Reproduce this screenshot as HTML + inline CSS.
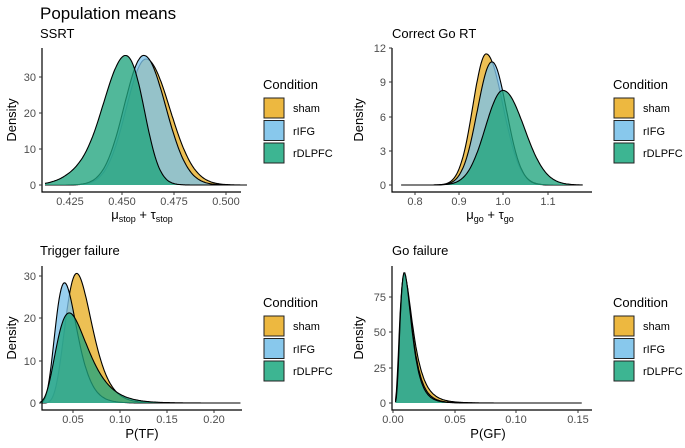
<!DOCTYPE html>
<html><head><meta charset="utf-8"><style>
body{margin:0;background:#fff}
svg{display:block;font-family:"Liberation Sans",sans-serif}
.tk{font-size:11px;fill:#4d4d4d}
.ax{stroke:#000;stroke-width:1.2;fill:none}
.tm{stroke:#333;stroke-width:1}
</style></head><body>
<svg id="s" width="685" height="448" viewBox="0 0 685 448">
<rect width="685" height="448" fill="#fff"/>
<text x="40" y="19" font-size="17">Population means</text>
<text x="40" y="38" font-size="13">SSRT</text>
<text x="392" y="38" font-size="13">Correct Go RT</text>
<text x="40" y="255" font-size="13">Trigger failure</text>
<text x="392" y="255" font-size="13">Go failure</text>
<g id="curves"></g>
<path class="ax" d="M42,48V192H241"/>
<g class="tm"><path d="M39,185H42M39,149H42M39,113H42M39,77H42M70,192V195M122,192V195M174,192V195M226,192V195"/></g>
<g class="tk" text-anchor="end"><text x="36" y="189">0</text><text x="36" y="153">10</text><text x="36" y="117">20</text><text x="36" y="81">30</text></g>
<g class="tk" text-anchor="middle"><text x="70" y="205">0.425</text><text x="122" y="205">0.450</text><text x="174" y="205">0.475</text><text x="226" y="205">0.500</text></g>
<text transform="translate(16,120) rotate(-90)" text-anchor="middle" font-size="13">Density</text>
<text x="142" y="219" text-anchor="middle" font-size="13">μ<tspan font-size="9" dy="3">stop</tspan><tspan dy="-3"> + τ</tspan><tspan font-size="9" dy="3">stop</tspan></text>
<path class="ax" d="M392,48V192H592"/>
<g class="tm"><path d="M389,185H392M389,151H392M389,117H392M389,82H392M389,48H392M415,192V195M459,192V195M503,192V195M548,192V195"/></g>
<g class="tk" text-anchor="end"><text x="386" y="189">0</text><text x="386" y="155">3</text><text x="386" y="121">6</text><text x="386" y="86">9</text><text x="386" y="52">12</text></g>
<g class="tk" text-anchor="middle"><text x="415" y="205">0.8</text><text x="459" y="205">0.9</text><text x="503" y="205">1.0</text><text x="548" y="205">1.1</text></g>
<text transform="translate(363,120) rotate(-90)" text-anchor="middle" font-size="13">Density</text>
<text x="490" y="219" text-anchor="middle" font-size="13">μ<tspan font-size="9" dy="3">go</tspan><tspan dy="-3"> + τ</tspan><tspan font-size="9" dy="3">go</tspan></text>
<path class="ax" d="M42,266V410H242"/>
<g class="tm"><path d="M39,403H42M39,361H42M39,318H42M39,276H42M73,410V413M120,410V413M167,410V413M214,410V413"/></g>
<g class="tk" text-anchor="end"><text x="36" y="407">0</text><text x="36" y="365">10</text><text x="36" y="322">20</text><text x="36" y="280">30</text></g>
<g class="tk" text-anchor="middle"><text x="73" y="423">0.05</text><text x="120" y="423">0.10</text><text x="167" y="423">0.15</text><text x="214" y="423">0.20</text></g>
<text transform="translate(16,338) rotate(-90)" text-anchor="middle" font-size="13">Density</text>
<text x="142" y="438" text-anchor="middle" font-size="13">P(TF)</text>
<path class="ax" d="M392,266V410H592"/>
<g class="tm"><path d="M389,403H392M389,368H392M389,332H392M389,297H392M393,410V413M455,410V413M516,410V413M578,410V413"/></g>
<g class="tk" text-anchor="end"><text x="386" y="407">0</text><text x="386" y="372">25</text><text x="386" y="336">50</text><text x="386" y="301">75</text></g>
<g class="tk" text-anchor="middle"><text x="393" y="423">0.00</text><text x="455" y="423">0.05</text><text x="516" y="423">0.10</text><text x="578" y="423">0.15</text></g>
<text transform="translate(363,338) rotate(-90)" text-anchor="middle" font-size="13">Density</text>
<text x="488" y="438" text-anchor="middle" font-size="13">P(GF)</text>
<g transform="translate(263,0)">
<text x="0" y="89" font-size="13">Condition</text>
<rect x="1" y="98" width="20" height="20" fill="#EDB840" stroke="#222"/>
<rect x="1" y="120.5" width="20" height="20" fill="#88C8EC" stroke="#222"/>
<rect x="1" y="143" width="20" height="20" fill="#3DB592" stroke="#222"/>
<text x="30" y="112" font-size="11">sham</text><text x="30" y="135" font-size="11">rIFG</text><text x="30" y="157" font-size="11">rDLPFC</text>
</g>
<g transform="translate(613,0)">
<text x="0" y="89" font-size="13">Condition</text>
<rect x="1" y="98" width="20" height="20" fill="#EDB840" stroke="#222"/>
<rect x="1" y="120.5" width="20" height="20" fill="#88C8EC" stroke="#222"/>
<rect x="1" y="143" width="20" height="20" fill="#3DB592" stroke="#222"/>
<text x="30" y="112" font-size="11">sham</text><text x="30" y="135" font-size="11">rIFG</text><text x="30" y="157" font-size="11">rDLPFC</text>
</g>
<g transform="translate(263,218)">
<text x="0" y="89" font-size="13">Condition</text>
<rect x="1" y="98" width="20" height="20" fill="#EDB840" stroke="#222"/>
<rect x="1" y="120.5" width="20" height="20" fill="#88C8EC" stroke="#222"/>
<rect x="1" y="143" width="20" height="20" fill="#3DB592" stroke="#222"/>
<text x="30" y="112" font-size="11">sham</text><text x="30" y="135" font-size="11">rIFG</text><text x="30" y="157" font-size="11">rDLPFC</text>
</g>
<g transform="translate(613,218)">
<text x="0" y="89" font-size="13">Condition</text>
<rect x="1" y="98" width="20" height="20" fill="#EDB840" stroke="#222"/>
<rect x="1" y="120.5" width="20" height="20" fill="#88C8EC" stroke="#222"/>
<rect x="1" y="143" width="20" height="20" fill="#3DB592" stroke="#222"/>
<text x="30" y="112" font-size="11">sham</text><text x="30" y="135" font-size="11">rIFG</text><text x="30" y="157" font-size="11">rDLPFC</text>
</g>
</svg>
<script>
(function(){
var g=document.getElementById('curves'),NS='http://www.w3.org/2000/svg';
var cols=['#E8AE24','#7CC3EA','#20A47E'];
function gauss(m,s,h){return function(v){return h*Math.exp(-0.5*Math.pow((v-m)/s,2));};}
function skewg(m,sl,sr,h){return function(v){var s=v<m?sl:sr;return h*Math.exp(-0.5*Math.pow((v-m)/s,2));};}
function ln(mode,s,h){return function(v){if(v<=0)return 0;var z=Math.log(v/mode)/s;return h*Math.exp(-0.5*z*z);};}
function draw(f,a,b,X,Y,c){
  var d='',n=200;
  for(var i=0;i<=n;i++){var v=a+(b-a)*i/n;d+=(i?'L':'M')+X(v).toFixed(1)+','+Y(f(v)).toFixed(1);}
  var p=document.createElementNS(NS,'path');
  p.setAttribute('d',d+'L'+X(b).toFixed(1)+','+Y(0)+'L'+X(a).toFixed(1)+','+Y(0)+'Z');
  p.setAttribute('fill',c);p.setAttribute('fill-opacity','0.78');g.appendChild(p);
  var q=document.createElementNS(NS,'path');
  q.setAttribute('d',d);q.setAttribute('fill','none');q.setAttribute('stroke','#000');q.setAttribute('stroke-width','1.1');g.appendChild(q);
}
var X1=function(v){return 122+(v-0.45)*2080},Y1=function(d){return 185-d*3.6};
draw(skewg(0.4615,0.0095,0.0115,35),0.413,0.51,X1,Y1,cols[0]);
draw(skewg(0.4605,0.0095,0.0105,36),0.413,0.51,X1,Y1,cols[1]);
draw(function(v){return gauss(0.449,0.0085,28)(v)+gauss(0.457,0.006,12)(v)+gauss(0.435,0.01,5)(v);},0.413,0.51,X1,Y1,cols[2]);
var X2=function(v){return 503+(v-1)*442},Y2=function(d){return 185-d*11.4};
draw(skewg(0.962,0.03,0.038,11.5),0.77,1.18,X2,Y2,cols[0]);
draw(skewg(0.975,0.033,0.033,10.8),0.77,1.18,X2,Y2,cols[1]);
draw(skewg(1.0,0.04,0.048,8.3),0.77,1.18,X2,Y2,cols[2]);
var X3=function(v){return 73+(v-0.05)*940},Y3=function(d){return 403-d*4.25};
draw(ln(0.054,0.26,30.5),0.015,0.228,X3,Y3,cols[0]);
draw(ln(0.041,0.28,28.3),0.015,0.228,X3,Y3,cols[1]);
draw(ln(0.046,0.36,21.2),0.015,0.228,X3,Y3,cols[2]);
var X4=function(v){return 393+v*1233},Y4=function(d){return 403-d*1.42};
draw(ln(0.0092,0.55,90),0.002,0.153,X4,Y4,cols[0]);
draw(ln(0.0092,0.5,91),0.002,0.153,X4,Y4,cols[1]);
draw(ln(0.0092,0.48,92),0.002,0.153,X4,Y4,cols[2]);
})();
</script>
</body></html>
